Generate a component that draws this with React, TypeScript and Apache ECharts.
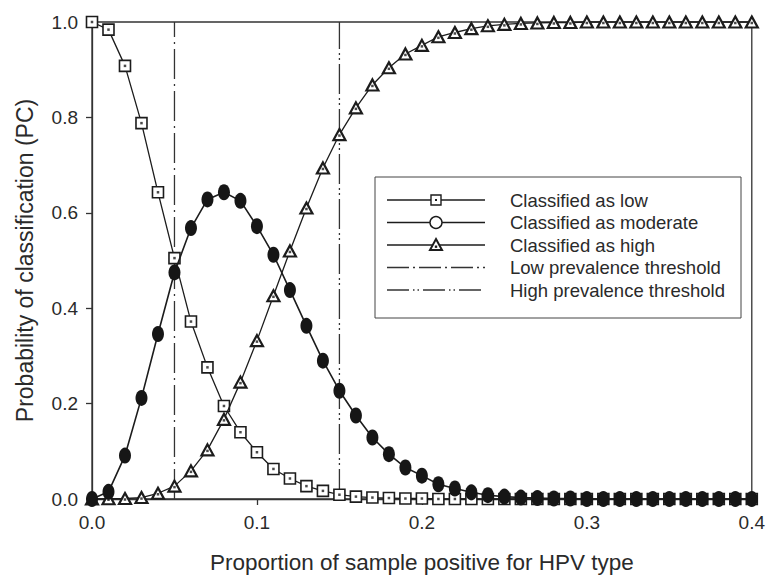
import React, { useEffect, useRef } from "react";
import * as echarts from "echarts";

const xValues = [
  0, 0.01, 0.02, 0.03, 0.04, 0.05, 0.06, 0.07, 0.08, 0.09, 0.1, 0.11, 0.12, 0.13,
  0.14, 0.15, 0.16, 0.17, 0.18, 0.19, 0.2, 0.21, 0.22, 0.23, 0.24, 0.25, 0.26,
  0.27, 0.28, 0.29, 0.3, 0.31, 0.32, 0.33, 0.34, 0.35, 0.36, 0.37, 0.38, 0.39, 0.4,
];

const lowValues = [
  1.0, 0.984, 0.908, 0.788, 0.643, 0.505, 0.372, 0.276, 0.195, 0.14, 0.098, 0.063,
  0.043, 0.027, 0.017, 0.009, 0.005, 0.003, 0.002, 0.001, 0.001, 0, 0, 0, 0, 0, 0,
  0, 0, 0, 0, 0, 0, 0, 0, 0, 0, 0, 0, 0, 0,
];

const moderateValues = [
  0, 0.015, 0.091, 0.212, 0.346, 0.475, 0.568, 0.628, 0.643, 0.625, 0.572, 0.512,
  0.438, 0.363, 0.29, 0.227, 0.175, 0.129, 0.094, 0.066, 0.049, 0.031, 0.022, 0.014,
  0.008, 0.005, 0.003, 0.002, 0.001, 0.001, 0, 0, 0, 0, 0, 0, 0, 0, 0, 0, 0,
];

const highValues = [
  0, 0.0005, 0.001, 0.003, 0.012, 0.027, 0.059, 0.103, 0.167, 0.245, 0.332, 0.426,
  0.52, 0.61, 0.694, 0.764, 0.82, 0.868, 0.904, 0.933, 0.951, 0.969, 0.978, 0.986,
  0.992, 0.995, 0.997, 0.998, 0.999, 0.999, 1, 1, 1, 1, 1, 1, 1, 1, 1, 1, 1,
];

const lowThreshold = 0.05;
const highThreshold = 0.15;

const legendLabels = [
  "Classified as low",
  "Classified as moderate",
  "Classified as high",
  "Low prevalence threshold",
  "High prevalence threshold",
];

const xAxisTitle = "Proportion of sample positive for HPV type";
const yAxisTitle = "Probability of classification (PC)";

const FONT = '"Liberation Sans", Arial, Helvetica, sans-serif';
const INK = "#1c1c1c";
const TEXT = "#2a2a2a";
const LOW_DASH = [30, 5, 2, 5];
const HIGH_DASH = [30, 4, 2, 3, 2, 4];

function zip(ys: number[]) {
  return xValues.map((x, i) => [x, ys[i]]);
}

export default function App() {
  const ref = useRef<HTMLDivElement>(null);

  useEffect(() => {
    if (!ref.current) return;
    const chart = echarts.init(ref.current, undefined, { renderer: "svg" });

    const legendTop = 200;
    const rowGap = 22.5;
    const lx1 = 387;
    const lx2 = 485;
    const lmid = 436;
    const graphics: any[] = [
      {
        type: "rect",
        shape: { x: 375, y: 177, width: 366, height: 141 },
        style: { fill: "#fff", stroke: "#444", lineWidth: 1 },
        z: 100,
      },
    ];
    legendLabels.forEach((label, i) => {
      const y = legendTop + rowGap * i;
      let dash: any = null;
      if (i === 3) dash = [22, 4, 2, 4];
      if (i === 4) dash = [22, 4, 1.5, 3, 1.5, 4];
      graphics.push({
        type: "line",
        shape: { x1: lx1, y1: y, x2: lx2, y2: y },
        style: { stroke: i >= 3 ? "#333" : INK, lineWidth: 1.3, lineDash: dash },
        z: 101,
      });
      graphics.push({
        type: "text",
        x: 510,
        y,
        style: {
          text: label,
          fill: TEXT,
          font: `18.5px ${FONT}`,
          verticalAlign: "middle",
          align: "left",
        },
        z: 101,
      });
    });
    graphics.push({
      type: "rect",
      shape: { x: lmid - 5, y: legendTop - 5, width: 10, height: 10 },
      style: { fill: "#fff", stroke: INK, lineWidth: 1.4 },
      z: 102,
    });
    graphics.push({
      type: "rect",
      shape: { x: lmid - 1, y: legendTop - 1, width: 2, height: 2 },
      style: { fill: INK },
      z: 103,
    });
    graphics.push({
      type: "circle",
      shape: { cx: lmid, cy: legendTop + rowGap, r: 6 },
      style: { fill: "#fff", stroke: INK, lineWidth: 1.4 },
      z: 102,
    });
    graphics.push({
      type: "polygon",
      shape: {
        points: [
          [lmid, legendTop + 2 * rowGap - 6],
          [lmid + 6, legendTop + 2 * rowGap + 5],
          [lmid - 6, legendTop + 2 * rowGap + 5],
        ],
      },
      style: { fill: "#fff", stroke: INK, lineWidth: 2 },
      z: 102,
    });
    graphics.push({
      type: "rect",
      shape: { x: lmid - 1.2, y: legendTop + 2 * rowGap + 0.5, width: 2.4, height: 2.4 },
      style: { fill: INK },
      z: 103,
    });

    const lineStyle = { color: INK, width: 1.3 };

    chart.setOption({
      animation: false,
      backgroundColor: "#fff",
      textStyle: { fontFamily: FONT },
      grid: {
        left: 92,
        right: 10,
        top: 22,
        bottom: 79,
        show: true,
        borderColor: "#333",
        borderWidth: 1.3,
        backgroundColor: "transparent",
      },
      xAxis: {
        type: "value",
        min: 0,
        max: 0.4,
        interval: 0.1,
        name: xAxisTitle,
        nameLocation: "middle",
        nameGap: 52,
        nameTextStyle: { fontSize: 22.5, color: TEXT, fontFamily: FONT },
        axisLine: { show: true, lineStyle: { color: "#333", width: 1.3 } },
        axisTick: { show: true, inside: false, length: 6, lineStyle: { color: "#333", width: 1.3 } },
        axisLabel: {
          fontSize: 19,
          color: TEXT,
          fontFamily: FONT,
          margin: 14,
          formatter: (v: number) => v.toFixed(1),
        },
        splitLine: { show: false },
      },
      yAxis: {
        type: "value",
        min: 0,
        max: 1,
        interval: 0.2,
        name: yAxisTitle,
        nameLocation: "middle",
        nameGap: 56,
        nameTextStyle: { fontSize: 23, color: TEXT, fontFamily: FONT },
        axisLine: { show: true, lineStyle: { color: "#333", width: 1.3 } },
        axisTick: { show: true, inside: false, length: 6, lineStyle: { color: "#333", width: 1.3 } },
        axisLabel: {
          fontSize: 19,
          color: TEXT,
          fontFamily: FONT,
          margin: 14,
          formatter: (v: number) => v.toFixed(1),
        },
        splitLine: { show: false },
      },
      graphic: graphics,
      series: [
        {
          name: "Low prevalence threshold",
          type: "line",
          data: [
            [lowThreshold, 0],
            [lowThreshold, 1],
          ],
          symbol: "none",
          lineStyle: { color: "#333", width: 1.3, type: LOW_DASH },
          z: 1,
          silent: true,
        },
        {
          name: "High prevalence threshold",
          type: "line",
          data: [
            [highThreshold, 0],
            [highThreshold, 1],
          ],
          symbol: "none",
          lineStyle: { color: "#333", width: 1.3, type: HIGH_DASH },
          z: 1,
          silent: true,
        },
        {
          name: "Classified as low",
          type: "line",
          data: zip(lowValues),
          symbol: "rect",
          symbolSize: 11,
          showAllSymbol: true,
          clip: false,
          lineStyle,
          itemStyle: { color: "#fff", borderColor: INK, borderWidth: 1.6 },
          z: 3,
          silent: true,
        },
        {
          name: "low-dot",
          type: "scatter",
          data: zip(lowValues),
          symbol: "rect",
          symbolSize: 2.5,
          itemStyle: { color: INK },
          clip: false,
          z: 4,
          silent: true,
        },
        {
          name: "Classified as high",
          type: "line",
          data: zip(highValues),
          symbol: "triangle",
          symbolSize: [12, 11],
          showAllSymbol: true,
          clip: false,
          lineStyle,
          itemStyle: { color: "#fff", borderColor: INK, borderWidth: 2.2 },
          z: 5,
          silent: true,
        },
        {
          name: "high-dot",
          type: "scatter",
          data: zip(highValues),
          symbol: "rect",
          symbolSize: 2.5,
          symbolOffset: [0, 1],
          itemStyle: { color: INK },
          clip: false,
          z: 6,
          silent: true,
        },
        {
          name: "Classified as moderate",
          type: "line",
          data: zip(moderateValues),
          symbol: "circle",
          symbolSize: [12, 16],
          showAllSymbol: true,
          clip: false,
          lineStyle: { color: INK, width: 1.6 },
          itemStyle: { color: "#161616" },
          z: 7,
          silent: true,
        },
      ],
    });

    return () => chart.dispose();
  }, []);

  return (
    <div
      ref={ref}
      style={{ position: "fixed", left: 0, top: 0, width: 768, height: 579 }}
    />
  );
}
